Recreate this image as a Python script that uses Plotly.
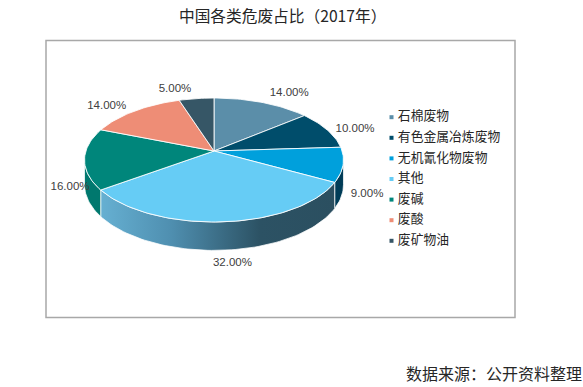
import math
import plotly.graph_objects as go

title = "中国各类危废占比（2017年）"
source = "数据来源：公开资料整理"
categories = ["石棉废物", "有色金属冶炼废物", "无机氰化物废物", "其他", "废碱", "废酸", "废矿物油"]
values = [14, 10, 9, 32, 16, 14, 5]
colors = ["#5b8ea9", "#004d6b", "#00a0dc", "#66ccf5", "#00867b", "#ee8d76", "#365666"]
side_colors = ["#4a7a93", "#003f5a", "#003c57", None, "#00786e", "#c97862", "#2c4756"]
label_offsets = [(27, -9), (28, -1), (24, 29), (9, 41), (-14.5, 28.5), (-28, -5), (-21.5, -9)]

W, H = 583, 387
CX, CY = 214, 151      # apex of the pie on the page
FX, FY, K = 128.1, 60.7, 0.145  # perspective tilt
DEPTH = 24.3
TOTAL = sum(values)


def rim(theta, drop=False):
    X, Y = math.sin(theta), math.cos(theta)
    d = 1 + K * Y
    return CX + FX * X / d, CY - FY * Y / d + (DEPTH / d if drop else 0)


def arc(a, b, drop=False):
    n = max(2, int(abs(b - a) / math.radians(1.5)))
    return [rim(a + (b - a) * i / n, drop) for i in range(n + 1)]


T_R = math.pi / 2 + math.asin(K)
T_L = 3 * math.pi / 2 - math.asin(K)

fig = go.Figure()
angles = []
acc = 0
for v in values:
    a = acc / TOTAL * 2 * math.pi
    acc += v
    angles.append((a, acc / TOTAL * 2 * math.pi))

# side walls
for i, (a, b) in enumerate(angles):
    lo, hi = max(a, T_R), min(b, T_L)
    if lo >= hi:
        continue
    pts = arc(lo, hi) + arc(lo, hi, True)[::-1]
    xs = [p[0] for p in pts] + [pts[0][0]]
    ys = [p[1] for p in pts] + [pts[0][1]]
    kw = dict(fillcolor=side_colors[i])
    if side_colors[i] is None:
        kw = dict(fillgradient=dict(type="horizontal",
                                    colorscale=[[0, "#66b0d2"], [0.3, "#4f8fb0"], [0.68, "#2c5264"], [1, "#2b4f60"]]))
    fig.add_trace(go.Scatter(x=xs, y=ys, mode="lines", fill="toself",
                             line=dict(color="rgba(255,255,255,0.75)", width=1),
                             hoverinfo="skip", showlegend=False, **kw))

# top faces
for i, (a, b) in enumerate(angles):
    pts = [(CX, CY)] + arc(a, b) + [(CX, CY)]
    fig.add_trace(go.Scatter(x=[p[0] for p in pts], y=[p[1] for p in pts], mode="lines",
                             fill="toself", fillcolor=colors[i],
                             line=dict(color="rgba(255,255,255,0.85)", width=1),
                             name=categories[i], showlegend=False))

# value labels
lx, ly, lt = [], [], []
for (a, b), v, (dx, dy) in zip(angles, values, label_offsets):
    x, y = rim((a + b) / 2)
    lx.append(x + dx)
    ly.append(y + dy)
    lt.append(f"{v / TOTAL * 100:.2f}%")
fig.add_trace(go.Scatter(x=lx, y=ly, mode="text", text=lt, textposition="middle center",
                         textfont=dict(family="Liberation Sans", size=11.5, color="#404040"),
                         hoverinfo="skip", showlegend=False))

# legend
for i, c in enumerate(categories):
    fig.add_trace(go.Scatter(x=[391.5], y=[117.2 + i * 20.6], mode="markers+text",
                             marker=dict(symbol="square", size=4, color=colors[i]),
                             text=[" " + c], textposition="middle right",
                             textfont=dict(family="Noto Sans CJK SC", size=12.8, color="#262626"),
                             hoverinfo="skip", showlegend=False))

fig.update_layout(
    width=W, height=H, margin=dict(l=0, r=0, t=0, b=0),
    paper_bgcolor="white", plot_bgcolor="white", autosize=False,
    xaxis=dict(range=[0, W], visible=False, fixedrange=True),
    yaxis=dict(range=[H, 0], visible=False, fixedrange=True),
    shapes=[dict(type="rect", xref="x", yref="y", x0=46, x1=515, y0=40.5, y1=317.5,
                 line=dict(color="#a8a8a8", width=1.5), layer="below")],
    annotations=[
        dict(x=282, y=15.5, xref="x", yref="y", text=title, showarrow=False,
             font=dict(family="Noto Sans CJK SC", size=15.7, color="#262626")),
        dict(x=493.5, y=372.5, xref="x", yref="y", text=source, showarrow=False,
             font=dict(family="Noto Sans CJK SC", size=16, color="#262626")),
    ],
)
fig.write_html("out.html", config=dict(displayModeBar=False),
               post_script="document.body.style.margin='0';document.documentElement.style.overflow='hidden';")
